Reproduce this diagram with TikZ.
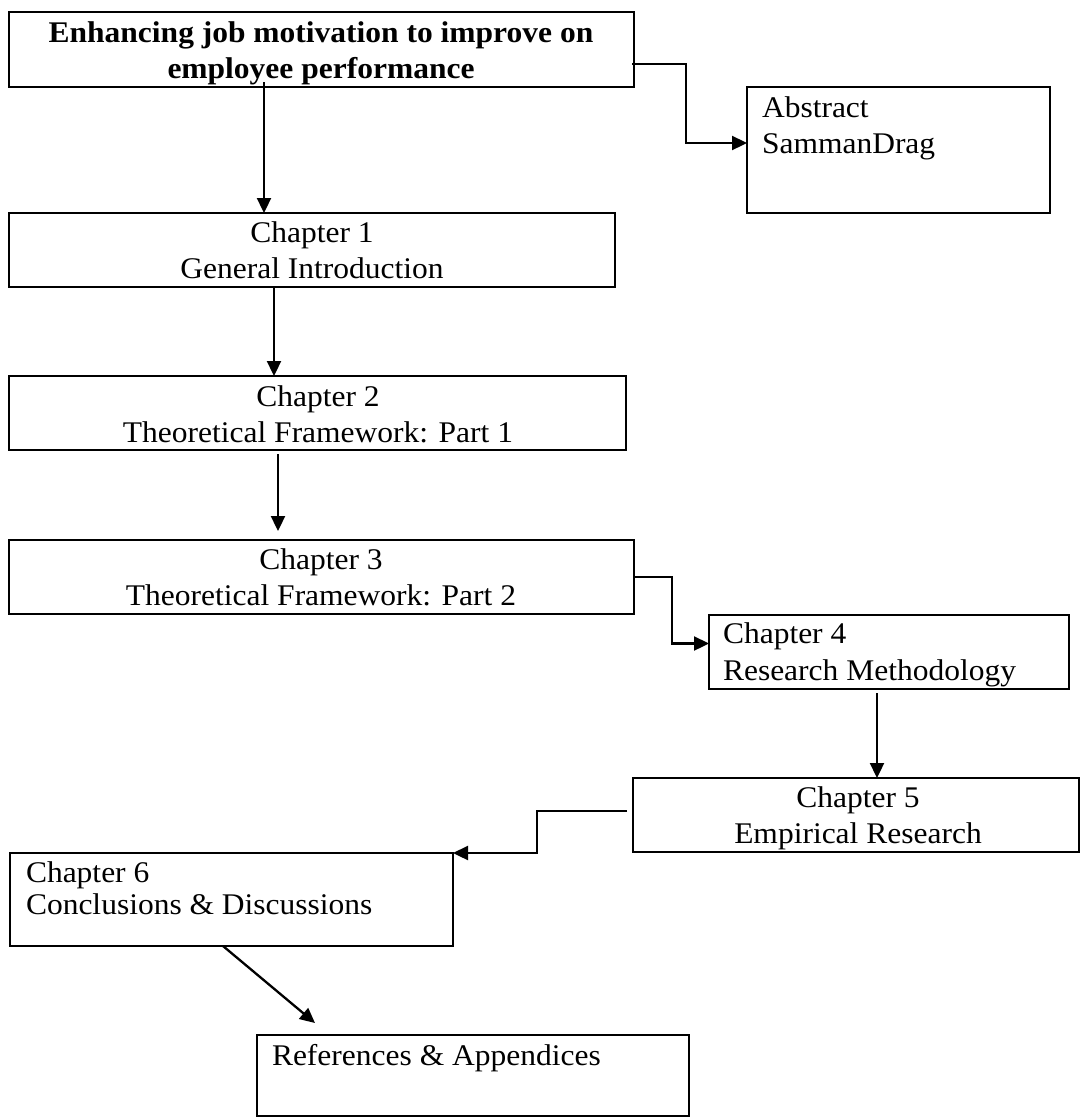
\documentclass[tikz,border=0pt]{standalone}
\usepackage{fontspec}
\setmainfont{Liberation Serif}[FakeStretch=1.05]
\usetikzlibrary{arrows.meta,calc}
\begin{document}
\begin{tikzpicture}[x=1pt,y=-1pt,
  boxnode/.style={draw=black,line width=2.5pt,inner sep=0pt,outer sep=0pt,anchor=north west},
  txt/.style={inner sep=0pt,outer sep=0pt,font=\fontsize{30}{36}\selectfont},
  arr/.style={draw=black,line width=2.3pt,-{Triangle[length=15pt,width=14pt]}}]
\useasboundingbox[fill=white] (0,0) rectangle (1081,1117);
% boxes
\node[boxnode,minimum width=625pt,minimum height=75pt] (title) at (9,12) {};
\node[boxnode,minimum width=303pt,minimum height=126pt] (abstract) at (747,87) {};
\node[boxnode,minimum width=606pt,minimum height=74pt] (ch1) at (9,213) {};
\node[boxnode,minimum width=617pt,minimum height=74pt] (ch2) at (9,376) {};
\node[boxnode,minimum width=625pt,minimum height=74pt] (ch3) at (9,540) {};
\node[boxnode,minimum width=360pt,minimum height=74pt] (ch4) at (709,615) {};
\node[boxnode,minimum width=446pt,minimum height=74pt] (ch5) at (633,778) {};
\node[boxnode,minimum width=443pt,minimum height=93pt] (ch6) at (10,853) {};
\node[boxnode,minimum width=432pt,minimum height=81pt] (refs) at (257,1035) {};
% texts
\node[txt,anchor=base,font=\fontsize{30}{36}\selectfont\bfseries] (titleA) at (321,42) {Enhancing job motivation to improve on};
\node[txt,anchor=base,font=\fontsize{30}{36}\selectfont\bfseries] (titleB) at (321,78) {employee performance};
\node[txt,anchor=base west] (absA) at (762,117) {Abstract};
\node[txt,anchor=base west] (absB) at (762,153) {SammanDrag};
\node[txt,anchor=base] (ch1A) at (312,242) {Chapter 1};
\node[txt,anchor=base] (ch1B) at (312,278) {General Introduction};
\node[txt,anchor=base] (ch2A) at (318,406) {Chapter 2};
\node[txt,anchor=base] (ch2B) at (318,442) {Theoretical Framework: Part 1};
\node[txt,anchor=base] (ch3A) at (321,569) {Chapter 3};
\node[txt,anchor=base] (ch3B) at (321,605) {Theoretical Framework: Part 2};
\node[txt,anchor=base west] (ch4A) at (723,643) {Chapter 4};
\node[txt,anchor=base west] (ch4B) at (723,680) {Research Methodology};
\node[txt,anchor=base] (ch5A) at (858,807) {Chapter 5};
\node[txt,anchor=base] (ch5B) at (858,843) {Empirical Research};
\node[txt,anchor=base west] (ch6A) at (26,882) {Chapter 6};
\node[txt,anchor=base west] (ch6B) at (26,914) {Conclusions \& Discussions};
\node[txt,anchor=base west] (refsA) at (272,1065) {References \& Appendices};
% connectors
\draw[arr] ([xshift=-2pt,yshift=-14.5pt]title.east) -| ([xshift=-61pt,yshift=7pt]abstract.west) -- ([yshift=7pt]abstract.west);
\draw[arr] ([xshift=-57.5pt,yshift=5pt]title.south) -- ([xshift=-57.5pt]title.south |- ch1.north);
\draw[arr] ([xshift=-38pt]ch1.south) -- ([xshift=-38pt]ch1.south |- ch2.north);
\draw[arr] ([xshift=-39.5pt,yshift=-4pt]ch2.south) -- ([xshift=-39.5pt,yshift=9pt]ch2.south |- ch3.north);
\draw[arr] (ch3.east) -| ([xshift=-37pt,yshift=8.5pt]ch4.west) -- ([yshift=8.5pt]ch4.west);
\draw[arr] ([xshift=-12pt,yshift=-4pt]ch4.south) -- ([xshift=-12pt]ch4.south |- ch5.north);
\draw[arr] ([xshift=-6pt,yshift=4pt]ch5.west) -| ([xshift=84pt]ch6.north east) -- (ch6.north east);
\draw[arr] ([xshift=-8.5pt]ch6.south) -- ([xshift=58pt,yshift=12pt]refs.north west);
\end{tikzpicture}
\end{document}
